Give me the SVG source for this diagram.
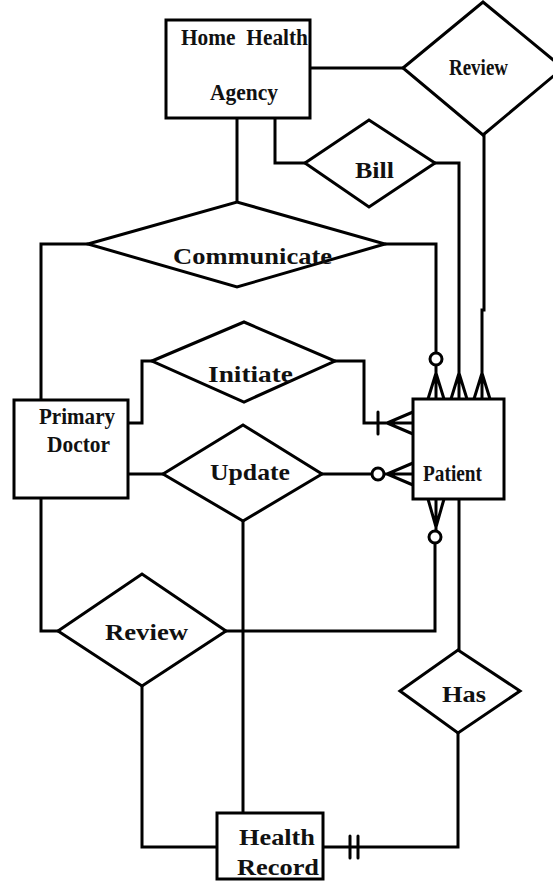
<svg xmlns="http://www.w3.org/2000/svg" width="553" height="881" viewBox="0 0 553 881">
<style>
.ent{fill:#fff;stroke:#000;stroke-width:3}
.rel{fill:#fff;stroke:#000;stroke-width:3;stroke-linejoin:miter}
.ln{fill:none;stroke:#000;stroke-width:3;stroke-linecap:round;stroke-linejoin:miter}
.ring{fill:#fff;stroke:#000;stroke-width:3}
.t{font-family:"Liberation Serif","Times New Roman",serif;font-weight:bold;font-size:23px;fill:#111}
</style>
<rect width="553" height="881" fill="#fff"/>
<g id="connectors">
<path class="ln" d="M310 68H403"/>
<path class="ln" d="M484 135V310H482V399M474 399L482 373L490 399"/>
<path class="ln" d="M275 118V163H305"/>
<path class="ln" d="M435 163H459V399M451 399L459 373L467 399"/>
<path class="ln" d="M237 118V202"/>
<path class="ln" d="M88 244H41V400"/>
<path class="ln" d="M385 244H436V353M436 365V399M428 399L436 373L444 399"/>
<circle class="ring" cx="436" cy="359" r="6"/>
<path class="ln" d="M128 423H142V361H152"/>
<path class="ln" d="M335 361H364V423H413M378 412V434M413 412L387 423L413 434"/>
<path class="ln" d="M128 474H163"/>
<path class="ln" d="M322 474H372M384 474H413M413 463L387 474L413 485"/>
<circle class="ring" cx="378" cy="474" r="6"/>
<path class="ln" d="M243 521V813"/>
<path class="ln" d="M41 498V631H58"/>
<path class="ln" d="M226 631H435V543M436 531V499M428 499L436 527L444 499"/>
<circle class="ring" cx="435" cy="537" r="6"/>
<path class="ln" d="M459 499V650"/>
<path class="ln" d="M458 733V847H323M350 836V858M358 836V858"/>
<path class="ln" d="M142 686V847H217"/>
</g>
<g id="home-health-agency">
<rect class="ent" x="166" y="20" width="144" height="98"/>
<text class="t" x="181" y="45" font-size="22" textLength="127" lengthAdjust="spacingAndGlyphs" xml:space="preserve">Home  Health</text>
<text class="t" x="210" y="100" font-size="22" textLength="68" lengthAdjust="spacingAndGlyphs">Agency</text>
</g>
<g id="review-top">
<polygon class="rel" points="403,68 483,2 563,68 483,135"/>
<text class="t" x="449" y="75" font-size="21" textLength="59" lengthAdjust="spacingAndGlyphs">Review</text>
</g>
<g id="bill">
<polygon class="rel" points="305,163 369,120 435,163 369,207"/>
<text class="t" x="355" y="178" textLength="39" lengthAdjust="spacingAndGlyphs">Bill</text>
</g>
<g id="communicate">
<polygon class="rel" points="88,244 237,202 385,244 237,287"/>
<text class="t" x="173" y="264" textLength="159" lengthAdjust="spacingAndGlyphs">Communicate</text>
</g>
<g id="initiate">
<polygon class="rel" points="152,361 244,322 335,361 244,402"/>
<text class="t" x="208" y="382" textLength="85" lengthAdjust="spacingAndGlyphs">Initiate</text>
</g>
<g id="primary-doctor">
<rect class="ent" x="14" y="400" width="114" height="98"/>
<text class="t" x="39" y="424" font-size="22" textLength="76" lengthAdjust="spacingAndGlyphs">Primary</text>
<text class="t" x="47" y="452" font-size="22" textLength="63" lengthAdjust="spacingAndGlyphs">Doctor</text>
</g>
<g id="update">
<polygon class="rel" points="163,474 243,425 322,474 243,521"/>
<text class="t" x="210" y="480" textLength="80" lengthAdjust="spacingAndGlyphs">Update</text>
</g>
<g id="patient">
<rect class="ent" x="413" y="399" width="91" height="100"/>
<text class="t" x="423" y="481" font-size="19" textLength="59" lengthAdjust="spacingAndGlyphs">Patient</text>
</g>
<g id="review-bottom">
<polygon class="rel" points="58,631 142,574 226,631 142,686"/>
<text class="t" x="105" y="640" textLength="83" lengthAdjust="spacingAndGlyphs">Review</text>
</g>
<g id="has">
<polygon class="rel" points="400,691 458,650 520,691 458,733"/>
<text class="t" x="442" y="702" textLength="44" lengthAdjust="spacingAndGlyphs">Has</text>
</g>
<g id="health-record">
<rect class="ent" x="217" y="813" width="106" height="66"/>
<text class="t" x="239" y="845" textLength="76" lengthAdjust="spacingAndGlyphs">Health</text>
<text class="t" x="237" y="875" textLength="82" lengthAdjust="spacingAndGlyphs">Record</text>
</g>
</svg>
